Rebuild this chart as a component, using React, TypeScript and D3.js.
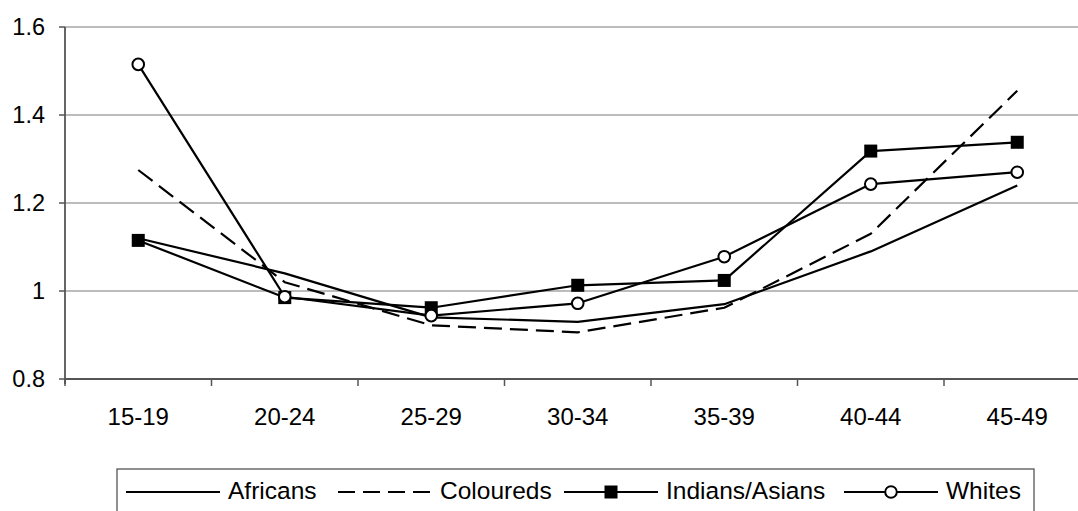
import React from "react";
import * as d3 from "d3";

// Age groups on the category axis
const ageGroups: string[] = ["15-19", "20-24", "25-29", "30-34", "35-39", "40-44", "45-49"];

// Ratio values per population group
const africans: number[] = [1.12, 1.04, 0.94, 0.93, 0.97, 1.09, 1.24];
const coloureds: number[] = [1.275, 1.02, 0.922, 0.906, 0.962, 1.13, 1.455];
const indiansAsians: number[] = [1.115, 0.985, 0.962, 1.013, 1.024, 1.318, 1.338];
const whites: number[] = [1.515, 0.987, 0.944, 0.972, 1.078, 1.243, 1.27];

const yTicks: number[] = [0.8, 1.0, 1.2, 1.4, 1.6];

type Marker = "none" | "square" | "circle";
interface Series {
  name: string;
  values: number[];
  dashed: boolean;
  marker: Marker;
}

const series: Series[] = [
  { name: "Africans", values: africans, dashed: false, marker: "none" },
  { name: "Coloureds", values: coloureds, dashed: true, marker: "none" },
  { name: "Indians/Asians", values: indiansAsians, dashed: false, marker: "square" },
  { name: "Whites", values: whites, dashed: false, marker: "circle" },
];

const W = 1078;
const H = 511;
const plotLeft = 65;
const bandW = 146.5;
const plotTop = 27;
const plotBottom = 379;
const FONT = "'Liberation Sans', Arial, sans-serif";
const DASH = "18,8";

// legend entry start positions
const legendX = [126, 338, 564, 844];
const legendLineLen = 94;

function MarkerShape({ type, x, y }: { type: Marker; x: number; y: number }) {
  if (type === "square") {
    return <rect x={x - 6.5} y={y - 6.5} width={13} height={13} fill="#000" />;
  }
  if (type === "circle") {
    return <circle cx={x} cy={y} r={5.8} fill="#fff" stroke="#000" strokeWidth={2} />;
  }
  return null;
}

export default function App() {
  const x = d3
    .scaleBand<string>()
    .domain(ageGroups)
    .range([plotLeft, plotLeft + bandW * ageGroups.length])
    .paddingInner(0)
    .paddingOuter(0);
  const y = d3.scaleLinear().domain([0.8, 1.6]).range([plotBottom, plotTop]);
  const cx = (c: string) => (x(c) as number) + x.bandwidth() / 2;

  const line = d3
    .line<number>()
    .x((_, i) => cx(ageGroups[i]))
    .y((d) => y(d));

  const boundaries = d3.range(ageGroups.length + 1).map((i) => plotLeft + i * x.bandwidth());
  const plotRight = plotLeft + bandW * ageGroups.length;

  return (
    <svg
      width={W}
      height={H}
      style={{ position: "absolute", left: 0, top: 0, background: "#fff" }}
      fontFamily={FONT}
    >
      <rect x={0} y={0} width={W} height={H} fill="#fff" />
      {/* horizontal gridlines */}
      {yTicks
        .filter((t) => t > 0.8)
        .map((t) => (
          <line key={t} x1={plotLeft} x2={plotRight} y1={y(t)} y2={y(t)} stroke="#7a7a7a" strokeWidth={1.2} />
        ))}
      {/* y axis */}
      <line x1={plotLeft} x2={plotLeft} y1={plotTop} y2={plotBottom + 5} stroke="#555" strokeWidth={1.8} />
      {yTicks.map((t) => (
        <g key={t}>
          <line x1={plotLeft - 6} x2={plotLeft} y1={y(t)} y2={y(t)} stroke="#555" strokeWidth={1.5} />
          <text x={plotLeft - 20} y={y(t)} dy="0.36em" textAnchor="end" fontSize={23.5} fill="#000">
            {t === 1 ? "1" : d3.format(".1f")(t)}
          </text>
        </g>
      ))}
      {/* x axis */}
      <line x1={plotLeft} x2={plotRight} y1={plotBottom} y2={plotBottom} stroke="#555" strokeWidth={2} />
      {boundaries.map((b, i) => (
        <line key={i} x1={b} x2={b} y1={plotBottom} y2={plotBottom + 7} stroke="#555" strokeWidth={1.5} />
      ))}
      {ageGroups.map((c) => (
        <text key={c} x={cx(c)} y={425} textAnchor="middle" fontSize={24} fill="#000">
          {c}
        </text>
      ))}
      {/* series */}
      {series.map((s) => (
        <g key={s.name}>
          <path
            d={line(s.values) || ""}
            fill="none"
            stroke="#000"
            strokeWidth={2.2}
            strokeDasharray={s.dashed ? DASH : undefined}
            strokeLinejoin="round"
          />
          {s.values.map((v, i) => (
            <MarkerShape key={i} type={s.marker} x={cx(ageGroups[i])} y={y(v)} />
          ))}
        </g>
      ))}
      {/* legend */}
      <rect x={117} y={469} width={917} height={60} fill="#fff" stroke="#555" strokeWidth={1.3} />
      {series.map((s, i) => {
        const lx = legendX[i];
        const ly = 492;
        return (
          <g key={s.name}>
            <line
              x1={lx}
              x2={lx + legendLineLen}
              y1={ly}
              y2={ly}
              stroke="#000"
              strokeWidth={2.2}
              strokeDasharray={s.dashed ? "17,8" : undefined}
            />
            <MarkerShape type={s.marker} x={lx + legendLineLen / 2} y={ly} />
            <text x={lx + legendLineLen + 8} y={498.5} fontSize={24.5} fill="#000">
              {s.name}
            </text>
          </g>
        );
      })}
    </svg>
  );
}
